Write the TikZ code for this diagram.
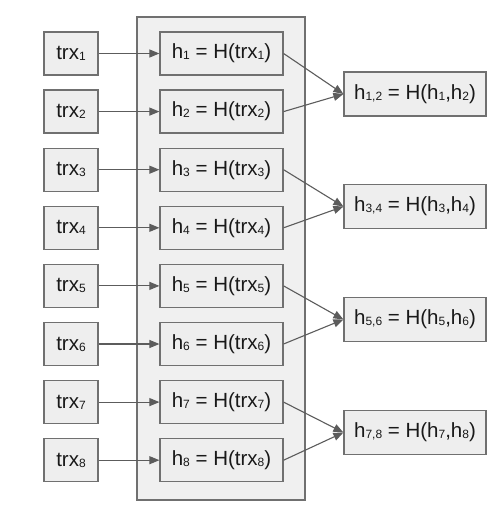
\documentclass[tikz,border=0pt]{standalone}
\usepackage{fontspec}
\setmainfont{Liberation Sans}
\usetikzlibrary{arrows.meta}
\definecolor{boxfill}{HTML}{EEEEEE}
\definecolor{contfill}{HTML}{F0F0F0}
\definecolor{edge}{HTML}{707070}
\definecolor{arr}{HTML}{5C5C5C}
\newcommand{\sbs}[1]{\raisebox{-1pt}{\fontsize{12}{12}\selectfont #1}}
\tikzset{
  box/.style={draw=edge, line width=1.2pt, fill=boxfill, rectangle, inner sep=0pt, anchor=center,
    font=\fontsize{20.5}{24}\selectfont, text=black!90},
  trxbox/.style={box, minimum width=54pt, minimum height=43pt},
  hbox/.style={box, minimum width=123pt, minimum height=43pt},
  pairbox/.style={box, minimum width=142pt, minimum height=44pt},
  container/.style={draw=edge, line width=1.2pt, fill=contfill, rectangle, inner sep=0pt,
    minimum width=168pt, minimum height=483pt},
  link/.style={draw=arr, line width=1.1pt, -{Triangle[length=10pt,width=8pt]}},
}
\begin{document}
\begin{tikzpicture}[x=1pt,y=-1pt]
\useasboundingbox (0,0) rectangle (493,510);
\node[container] (blk) at (221,258.5) {};
\foreach \i in {1,...,8} {
  \pgfmathsetmacro{\yy}{53.5+58.1*(\i-1)}
  \node[trxbox] (t\i) at (71,\yy) {trx\sbs{\i}};
  \node[hbox] (h\i) at (221.5,\yy) {h\sbs{\i} = H(trx\sbs{\i})};
  \draw[link] (t\i.east) -- (h\i.west);
}
\node[pairbox] (p12) at (415,94) {h\sbs{1,2} = H(h\sbs{1},h\sbs{2})};
\node[pairbox] (p34) at (415,206.5) {h\sbs{3,4} = H(h\sbs{3},h\sbs{4})};
\node[pairbox] (p56) at (415,319.5) {h\sbs{5,6} = H(h\sbs{5},h\sbs{6})};
\node[pairbox] (p78) at (415,432.5) {h\sbs{7,8} = H(h\sbs{7},h\sbs{8})};
\draw[link] (h1.east) -- (p12.west);
\draw[link] (h2.east) -- (p12.west);
\draw[link] (h3.east) -- (p34.west);
\draw[link] (h4.east) -- (p34.west);
\draw[link] (h5.east) -- (p56.west);
\draw[link] (h6.east) -- (p56.west);
\draw[link] (h7.east) -- (p78.west);
\draw[link] (h8.east) -- (p78.west);
\end{tikzpicture}
\end{document}
